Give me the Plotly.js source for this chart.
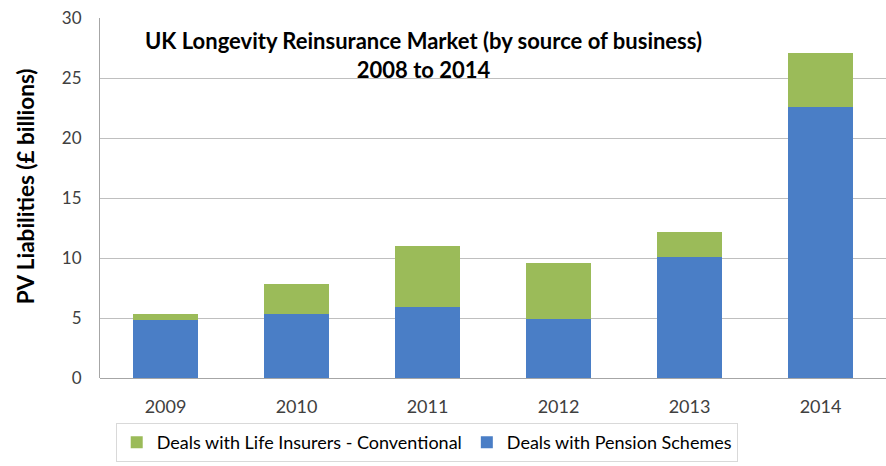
<!DOCTYPE html>
<html><head><meta charset="utf-8">
<script src="https://cdn.plot.ly/plotly-3.0.1.min.js"></script>
<style>html,body{margin:0;padding:0;background:#fff}#chart{width:886px;height:466px}</style>
</head><body><div id="chart"></div>
<script>
const years = ['2009','2010','2011','2012','2013','2014'];
const pensionSchemes = [4.8, 5.3, 5.9, 4.9, 10.1, 22.6];
const lifeInsurers = [0.5, 2.5, 5.1, 4.7, 2.1, 4.5];
const yTicks = [0, 5, 10, 15, 20, 25, 30];

const font = 'Lato, "Open Sans", sans-serif';
const data = [
  {type:'bar', name:'Deals with Pension Schemes', x:years, y:pensionSchemes,
   marker:{color:'#4a7ec6'}},
  {type:'bar', name:'Deals with Life Insurers - Conventional', x:years, y:lifeInsurers,
   marker:{color:'#9bbb59'}}
];
const layout = {
  width:886, height:466,
  margin:{l:100, r:0, t:18, b:88},
  barmode:'stack', bargap:0.5,
  paper_bgcolor:'#fff', plot_bgcolor:'#fff',
  font:{family:font, size:17, color:'#404040'},
  xaxis:{showgrid:false, showline:false, ticks:'', ticklabelstandoff:16,
         tickfont:{size:18, color:'#404040'}},
  yaxis:{range:[0,30], tickvals:yTicks, showgrid:true, gridcolor:'#bfbfbf', gridwidth:1,
         showline:true, linecolor:'#a6a6a6', zeroline:true, zerolinecolor:'#a6a6a6',
         ticks:'', ticklabelstandoff:14, tickfont:{size:17, color:'#404040'}},
  showlegend:true,
  legend:{orientation:'h', traceorder:'reversed', x:0.02, xanchor:'left', y:-0.125, yanchor:'top',
          bordercolor:'#d9d9d9', borderwidth:1, font:{size:18, color:'#000'}, itemwidth:30},
  annotations:[
    {xref:'paper', yref:'paper', x:0.412, y:0.897, xanchor:'center', yanchor:'middle',
     showarrow:false, align:'center',
     text:'<b>UK Longevity Reinsurance Market (by source of business)<br>2008 to 2014</b>',
     font:{size:22, color:'#000'}},
    {xref:'paper', yref:'paper', x:-0.0954, y:0.533, xanchor:'center', yanchor:'middle',
     showarrow:false, textangle:-90,
     text:'<b>PV Liabilities (£ billions)</b>', font:{size:22.5, color:'#000'}}
  ]
};
Plotly.newPlot('chart', data, layout, {displayModeBar:false, staticPlot:true});
</script></body></html>
